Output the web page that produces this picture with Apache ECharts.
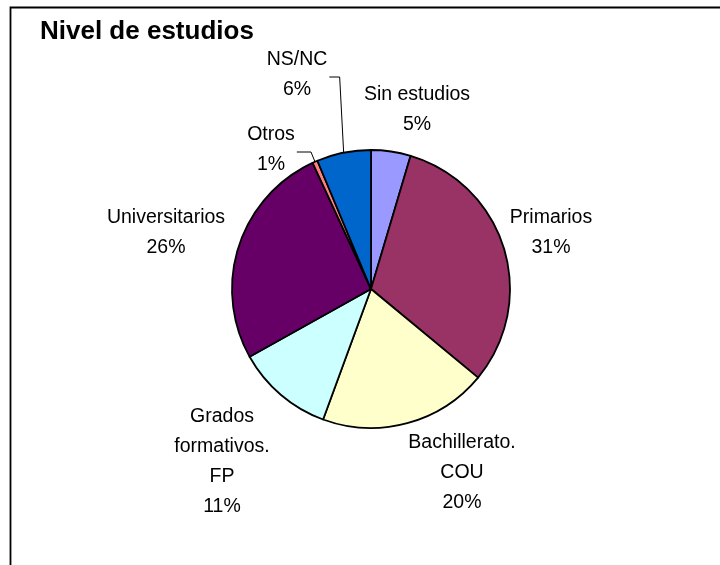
<!DOCTYPE html>
<html>
<head>
<meta charset="utf-8">
<script src="https://cdn.jsdelivr.net/npm/echarts@6/dist/echarts.min.js"></script>
<style>
  html, body { margin: 0; padding: 0; background: #fff; }
  #main { width: 720px; height: 565px; }
</style>
</head>
<body>
<div id="main"></div>
<script>
// categories and values (percent share)
const categories = ['Sin estudios', 'Primarios', 'Bachillerato.\nCOU', 'Grados\nformativos.\nFP', 'Universitarios', 'Otros', 'NS/NC']
const values = [4.6, 31.4, 19.6, 11.3, 26.2, 0.6, 6.3]
const colors = ['#9999FF', '#993366', '#FFFFCC', '#CCFFFF', '#660066', '#FF8080', '#0066CC']
// label centres, like Excel places them
const labelPos = [[417, 110], [551, 233], [462, 473], [222, 462], [166, 233], [271, 150], [297, 75]]
const showLine = [false, false, false, false, false, true, true]

const chart = echarts.init(document.getElementById('main'))

const option = {
  animation: false,
  backgroundColor: '#fff',
  title: {
    text: 'Nivel de estudios',
    left: 35,
    top: 14,
    textStyle: {
      fontFamily: 'Liberation Sans, Arial, sans-serif',
      fontSize: 26,
      fontWeight: 'bold',
      color: '#000'
    }
  },
  graphic: [
    {
      type: 'rect',
      shape: { x: 10.5, y: 7.5, width: 800, height: 700 },
      style: { fill: 'none', stroke: '#000', lineWidth: 1.8 },
      silent: true
    }
  ],
  series: [
    {
      type: 'pie',
      center: [371, 289],
      radius: 139,
      startAngle: 90,
      clockwise: true,
      silent: true,
      emphasis: { disabled: true },
      itemStyle: { borderColor: '#000', borderWidth: 1.8 },
      label: {
        show: true,
        position: 'outside',
        fontFamily: 'Liberation Sans, Arial, sans-serif',
        fontSize: 19.5,
        lineHeight: 30,
        color: '#000',
        align: 'center',
        formatter: function (p) {
          return p.name + '\n' + Math.round(p.percent) + '%'
        }
      },
      labelLine: {
        lineStyle: { color: '#000', width: 1 }
      },
      labelLayout: function (p) {
        const pos = labelPos[p.dataIndex]
        const res = { x: pos[0], y: pos[1], align: 'center', verticalAlign: 'middle' }
        if (showLine[p.dataIndex] && p.labelLinePoints) {
          // excel style leader: from the slice edge up, then across to the text
          const a = p.labelLinePoints[0]
          const ex = pos[0] + p.labelRect.width / 2 + 2
          const ey = pos[1] + 2
          res.labelLinePoints = [[a[0], a[1]], [a[0] - 4, ey], [ex, ey]]
        }
        return res
      },
      data: categories.map(function (name, i) {
        return {
          name: name,
          value: values[i],
          itemStyle: { color: colors[i] },
          labelLine: { show: showLine[i] }
        }
      })
    }
  ]
}

chart.setOption(option)
</script>
</body>
</html>
